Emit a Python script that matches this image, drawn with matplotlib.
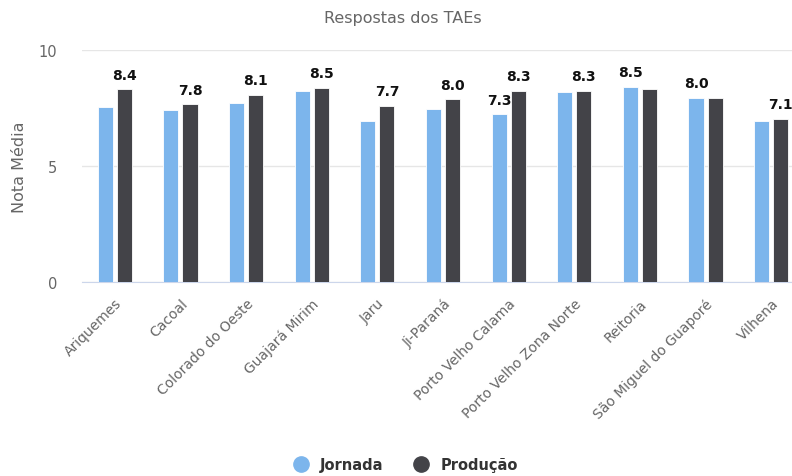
import matplotlib
matplotlib.use("Agg")
import matplotlib.pyplot as plt
from matplotlib.lines import Line2D
import numpy as np

categorias = ["Ariquemes", "Cacoal", "Colorado do Oeste", "Guajará Mirim", "Jaru",
              "Ji-Paraná", "Porto Velho Calama", "Porto Velho Zona Norte", "Reitoria",
              "São Miguel do Guaporé", "Vilhena"]
jornada = [7.55, 7.43, 7.71, 8.25, 6.93, 7.47, 7.22, 8.18, 8.41, 7.94, 6.93]
producao = [8.32, 7.66, 8.07, 8.37, 7.60, 7.88, 8.24, 8.24, 8.30, 7.94, 7.04]
# data labels as shown on the chart (overlapping ones hidden)
rot_jornada = [None, None, None, None, None, None, "7.3", None, "8.5", "8.0", None]
rot_producao = ["8.4", "7.8", "8.1", "8.5", "7.7", "8.0", "8.3", "8.3", None, None, "7.1"]

cor_j = "#7cb5ec"
cor_p = "#434348"

fig = plt.figure(figsize=(7.92, 4.77), dpi=100)
W, H = 792, 477
# plot area extends past the right edge, like the cropped original
ax = fig.add_axes([82 / W, 1 - 283 / H, 722 / W, 232 / H])

x = np.arange(len(categorias))
largura = 0.23
desloc = 0.145
ax.bar(x - desloc, jornada, largura, color=cor_j, edgecolor="white", linewidth=0.6, zorder=3)
ax.bar(x + desloc, producao, largura, color=cor_p, edgecolor="white", linewidth=0.6, zorder=3)

for i in range(len(categorias)):
    if rot_jornada[i]:
        ax.annotate(rot_jornada[i], (x[i] - desloc, jornada[i]), xytext=(0, 7.5),
                    textcoords="offset points", ha="center", va="baseline",
                    fontsize=10, fontweight="bold", color="#111111")
    if rot_producao[i]:
        ax.annotate(rot_producao[i], (x[i] + desloc, producao[i]), xytext=(0, 7.5),
                    textcoords="offset points", ha="center", va="baseline",
                    fontsize=10, fontweight="bold", color="#111111")

ax.set_xlim(-0.5, len(categorias) - 0.5)
ax.set_ylim(0, 10)
ax.set_yticks([0, 5, 10])
ax.yaxis.grid(True, color="#e6e6e6", linewidth=1, zorder=0)
ax.set_axisbelow(True)
for s in ["top", "right", "left"]:
    ax.spines[s].set_visible(False)
ax.spines["bottom"].set_color("#ccd6eb")
ax.tick_params(axis="y", length=0, pad=18, labelsize=10.5, labelcolor="#666666")
ax.tick_params(axis="x", length=0, pad=10, labelsize=10, labelcolor="#666666")
ax.set_xticks(x)
ax.set_xticklabels(categorias, rotation=45, ha="right", rotation_mode="anchor")
ax.set_ylabel("Nota Média", fontsize=11.5, color="#666666", labelpad=8)

fig.text(403 / W, 1 - 18 / H, "Respostas dos TAEs", ha="center", va="center",
         fontsize=11.5, color="#666666")

handles = [Line2D([], [], marker="o", linestyle="", markersize=11, color=cor_j),
           Line2D([], [], marker="o", linestyle="", markersize=11, color=cor_p)]
leg = fig.legend(handles, ["Jornada", "Produção"], loc="center", ncol=2,
                 bbox_to_anchor=(402 / W, 1 - 466 / H), frameon=False,
                 handletextpad=0.3, columnspacing=1.6,
                 prop={"weight": "bold", "size": 10.5})
for t in leg.get_texts():
    t.set_color("#333333")

fig.savefig("out.png", dpi=100)
